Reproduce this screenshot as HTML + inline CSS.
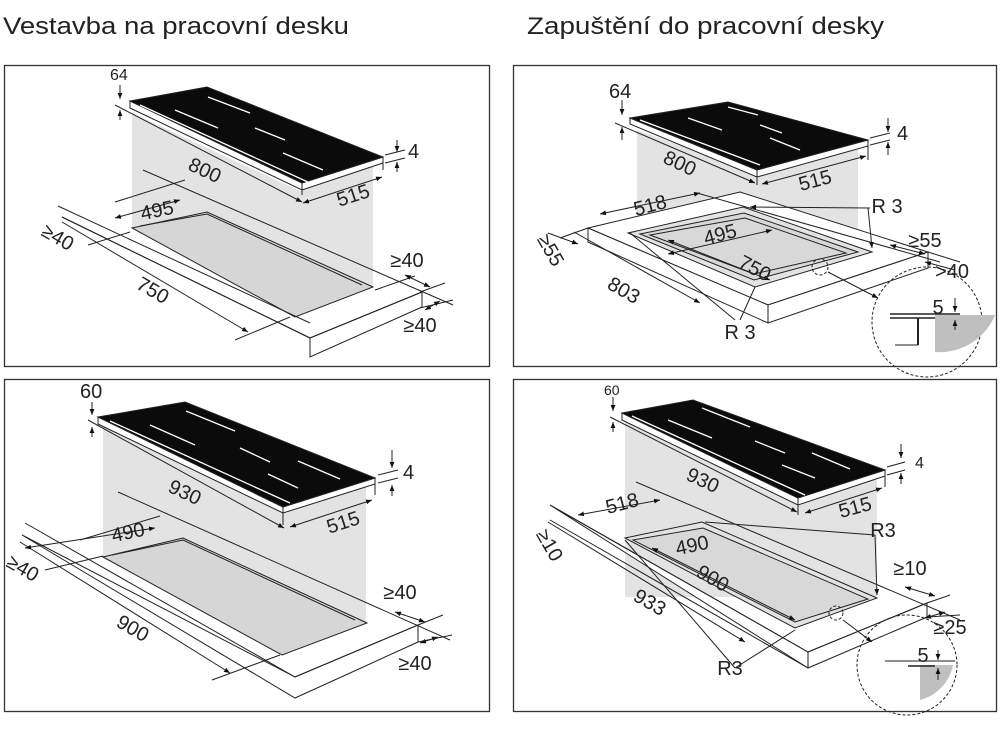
<!DOCTYPE html>
<html><head><meta charset="utf-8"><style>
html,body{margin:0;padding:0;background:#fff;}
svg{display:block;}
text{font-family:"Liberation Sans",sans-serif;fill:#222;}
</style></head><body>
<svg width="1000" height="731" viewBox="0 0 1000 731" xmlns="http://www.w3.org/2000/svg">
<defs>
<marker id="a" viewBox="0 0 10 10" refX="10" refY="5" markerWidth="6" markerHeight="6" orient="auto-start-reverse"><path d="M0,1 L10,5 L0,9z" fill="#111"/></marker>
</defs>
<text x="3" y="34" font-size="24" textLength="346" lengthAdjust="spacingAndGlyphs">Vestavba na pracovní desku</text>
<text x="527" y="34" font-size="24" textLength="357" lengthAdjust="spacingAndGlyphs">Zapuštění do pracovní desky</text>

<g fill="none" stroke="#333" stroke-width="1.3">
<rect x="4.5" y="65.5" width="485" height="301"/>
<rect x="513.5" y="65.5" width="483" height="301"/>
<rect x="4.5" y="379.5" width="485" height="332"/>
<rect x="513.5" y="379.5" width="483" height="332"/>
</g>

<!-- ===== TL ===== -->
<g stroke="#222" stroke-width="1" fill="none">
<polygon points="132,113 300,191 373,165 373,287 295,317 132,228" fill="#e3e3e3" stroke="none"/>
<polygon points="132,228 207,212 373,287 295,317" fill="#d6d6d6"/>
<polyline points="140,226 207,214 362,285"/>
<polygon points="62,217 310,338 422,292 422,307 310,357 310,338" fill="#fff"/>
<line x1="62" y1="217" x2="310" y2="338"/>
<line x1="310" y1="338" x2="422" y2="292"/>
<line x1="310" y1="338" x2="310" y2="357"/>
<line x1="143" y1="170" x2="453" y2="305"/>
<line x1="58" y1="206" x2="310" y2="323"/>
<line x1="62" y1="222" x2="248" y2="332" marker-end="url(#a)"/>
<line x1="235" y1="340" x2="290" y2="317"/>
<line x1="88" y1="245" x2="130" y2="232"/>
<line x1="115" y1="202" x2="185" y2="180"/>
<line x1="115" y1="218" x2="180" y2="200" marker-start="url(#a)" marker-end="url(#a)"/>
<line x1="375" y1="290" x2="415" y2="276"/>
<line x1="405" y1="275" x2="430" y2="287" marker-start="url(#a)" marker-end="url(#a)"/>
<line x1="425" y1="310" x2="440" y2="301" marker-start="url(#a)" marker-end="url(#a)"/>
<line x1="420" y1="292" x2="445" y2="283"/>
<line x1="420" y1="308" x2="453" y2="300"/>
<!-- hob -->
<polygon points="130,101 302,183 383,157 383,163 302,190 130,108" fill="#fff"/>
<polygon points="130,101 207,87 383,157 302,183" fill="#0b0b0b"/>
<line x1="302" y1="183" x2="302" y2="195"/>
<line x1="383" y1="157" x2="383" y2="170"/>
<line x1="115" y1="105" x2="302" y2="202" marker-end="url(#a)"/>
<line x1="303" y1="203" x2="382" y2="177" marker-start="url(#a)" marker-end="url(#a)"/>
<line x1="120" y1="85" x2="120" y2="99" marker-end="url(#a)"/>
<line x1="120" y1="120" x2="120" y2="110" marker-end="url(#a)"/>
<line x1="397" y1="140" x2="397" y2="152" marker-end="url(#a)"/>
<line x1="397" y1="172" x2="397" y2="162" marker-end="url(#a)"/>
<line x1="385" y1="155" x2="405" y2="150"/><line x1="385" y1="163" x2="405" y2="158"/>
</g>
<g stroke="#fff" stroke-width="1.3">
<line x1="208" y1="97" x2="250" y2="113"/><line x1="175" y1="110" x2="218" y2="128"/>
<line x1="255" y1="128" x2="285" y2="140"/><line x1="283" y1="153" x2="323" y2="170"/>
<line x1="140" y1="105" x2="310" y2="183"/>
</g>
<g font-size="20">
<text x="110" y="80" font-size="16">64</text>
<text x="408" y="158">4</text>
<text x="205" y="177" text-anchor="middle" transform="rotate(25 205 170)">800</text>
<text x="353" y="202" text-anchor="middle" transform="rotate(-18 353 195)">515</text>
<text x="157" y="217" text-anchor="middle" transform="rotate(-12 157 210)">495</text>
<text x="58" y="244" text-anchor="middle" transform="rotate(30 58 237)">≥40</text>
<text x="153" y="297" text-anchor="middle" transform="rotate(30 153 290)">750</text>
<text x="407" y="267" text-anchor="middle">≥40</text>
<text x="420" y="332" text-anchor="middle">≥40</text>
</g>

<!-- ===== BL ===== -->
<g stroke="#222" stroke-width="1" fill="none">
<polygon points="103,425 283,512 366,483 366,623 282,655 103,557" fill="#e3e3e3" stroke="none"/>
<polygon points="103,557 183,538 367,623 282,655" fill="#d6d6d6"/>
<polyline points="112,555 183,540 355,620"/>
<polygon points="22,535 295,677 418,625 418,642 295,698" fill="#fff"/>
<line x1="25" y1="523" x2="295" y2="677"/>
<line x1="295" y1="677" x2="418" y2="625"/>
<line x1="118" y1="492" x2="450" y2="640"/>
<line x1="20" y1="542" x2="230" y2="673" marker-end="url(#a)"/>
<line x1="212" y1="680" x2="280" y2="655"/>
<line x1="45" y1="570" x2="103" y2="556"/>
<line x1="80" y1="540" x2="160" y2="516"/>
<line x1="25" y1="548" x2="155" y2="528" marker-start="url(#a)" marker-end="url(#a)"/>
<line x1="395" y1="612" x2="425" y2="622" marker-start="url(#a)" marker-end="url(#a)"/>
<line x1="420" y1="643" x2="438" y2="637" marker-start="url(#a)" marker-end="url(#a)"/>
<line x1="418" y1="625" x2="443" y2="615"/>
<line x1="418" y1="642" x2="452" y2="635"/>
<polygon points="98,417 283,507 375,478 375,484 283,513 98,424" fill="#fff"/>
<polygon points="98,417 185,402 375,478 283,507" fill="#0b0b0b"/>
<line x1="283" y1="507" x2="283" y2="525"/>
<line x1="375" y1="478" x2="375" y2="495"/>
<line x1="88" y1="420" x2="284" y2="528" marker-end="url(#a)"/>
<line x1="290" y1="527" x2="372" y2="500" marker-start="url(#a)" marker-end="url(#a)"/>
<line x1="92" y1="402" x2="92" y2="415" marker-end="url(#a)"/>
<line x1="92" y1="437" x2="92" y2="427" marker-end="url(#a)"/>
<line x1="392" y1="450" x2="392" y2="468" marker-end="url(#a)"/>
<line x1="392" y1="496" x2="392" y2="485" marker-end="url(#a)"/>
<line x1="378" y1="475" x2="398" y2="470"/><line x1="378" y1="483" x2="398" y2="478"/>
</g>
<g stroke="#fff" stroke-width="1.3">
<line x1="186" y1="411" x2="235" y2="431"/><line x1="150" y1="425" x2="195" y2="445"/>
<line x1="240" y1="448" x2="270" y2="462"/><line x1="298" y1="461" x2="340" y2="479"/>
<line x1="268" y1="474" x2="298" y2="488"/>
<line x1="110" y1="421" x2="290" y2="503"/>
</g>
<g font-size="20">
<text x="80" y="398">60</text>
<text x="403" y="479">4</text>
<text x="185" y="499" text-anchor="middle" transform="rotate(25 185 492)">930</text>
<text x="343" y="529" text-anchor="middle" transform="rotate(-18 343 522)">515</text>
<text x="128" y="539" text-anchor="middle" transform="rotate(-12 128 532)">490</text>
<text x="23" y="575" text-anchor="middle" transform="rotate(30 23 568)">≥40</text>
<text x="133" y="635" text-anchor="middle" transform="rotate(30 133 628)">900</text>
<text x="400" y="599" text-anchor="middle">≥40</text>
<text x="415" y="670" text-anchor="middle">≥40</text>
</g>

<!-- ===== TR ===== -->
<g stroke="#222" stroke-width="1" fill="none">
<polygon points="637,130 757,172 858,145 858,247 637,247" fill="#e3e3e3" stroke="none"/>
<polygon points="588,228 740,192 928,252 768,305" fill="#fff"/>
<polygon points="588,228 768,305 928,252 928,268 768,323 588,242" fill="#fff"/>
<line x1="768" y1="305" x2="768" y2="323"/>
<polygon points="628,233 743,207 872,252 755,287" fill="#e3e3e3"/>
<polygon points="640,234 744,213 858,252 754,280" fill="#d8d8d8"/>
<polygon points="650,235 745,218 846,253 754,274"/>
<circle cx="820" cy="267" r="8" stroke-dasharray="3,2"/>
<line x1="828" y1="272" x2="878" y2="298" marker-end="url(#a)"/>
<circle cx="927" cy="322" r="55" stroke-dasharray="3,2"/>
<path d="M935,315 L995,315 A60,60 0 0 1 935,352 Z" fill="#bfbfbf" stroke="none"/>
<line x1="890" y1="314" x2="960" y2="314" stroke-width="1.5"/>
<line x1="890" y1="318" x2="935" y2="318" stroke-width="1.5"/>
<line x1="918" y1="318" x2="918" y2="345" stroke-width="2"/>
<line x1="895" y1="345" x2="918" y2="345"/>
<line x1="955" y1="298" x2="955" y2="312" marker-end="url(#a)"/>
<line x1="955" y1="330" x2="955" y2="320" marker-end="url(#a)"/>
<line x1="600" y1="214" x2="700" y2="193" marker-start="url(#a)" marker-end="url(#a)"/>
<line x1="697" y1="193" x2="940" y2="262"/>
<line x1="750" y1="207" x2="870" y2="208" marker-start="url(#a)"/>
<line x1="868" y1="208" x2="872" y2="248" marker-end="url(#a)"/>
<line x1="668" y1="254" x2="772" y2="230" marker-start="url(#a)" marker-end="url(#a)"/>
<line x1="668" y1="240" x2="770" y2="280" marker-start="url(#a)" marker-end="url(#a)"/>
<line x1="560" y1="238" x2="588" y2="228"/>
<line x1="548" y1="233" x2="578" y2="244" marker-end="url(#a)"/>
<line x1="574" y1="232" x2="700" y2="303" marker-end="url(#a)"/>
<line x1="630" y1="233" x2="735" y2="320"/>
<line x1="755" y1="287" x2="740" y2="320"/>
<line x1="890" y1="245" x2="925" y2="254" marker-start="url(#a)" marker-end="url(#a)"/>
<line x1="925" y1="262" x2="955" y2="270" marker-start="url(#a)"/>
<line x1="928" y1="252" x2="960" y2="262"/>
<polygon points="630,118 757,170 868,140 868,146 757,177 630,124" fill="#fff"/>
<polygon points="630,118 728,102 868,140 757,170" fill="#0b0b0b"/>
<line x1="757" y1="170" x2="757" y2="185"/>
<line x1="868" y1="140" x2="868" y2="160"/>
<line x1="615" y1="123" x2="755" y2="183" marker-end="url(#a)"/>
<line x1="762" y1="184" x2="866" y2="156" marker-start="url(#a)" marker-end="url(#a)"/>
<line x1="622" y1="100" x2="622" y2="115" marker-end="url(#a)"/>
<line x1="622" y1="140" x2="622" y2="127" marker-end="url(#a)"/>
<line x1="888" y1="118" x2="888" y2="132" marker-end="url(#a)"/>
<line x1="888" y1="155" x2="888" y2="142" marker-end="url(#a)"/>
<line x1="870" y1="138" x2="890" y2="133"/><line x1="870" y1="145" x2="890" y2="140"/>
</g>
<g stroke="#fff" stroke-width="1.3">
<line x1="728" y1="107" x2="758" y2="115"/><line x1="688" y1="118" x2="722" y2="130"/>
<line x1="760" y1="125" x2="782" y2="133"/><line x1="770" y1="138" x2="800" y2="150"/>
<line x1="640" y1="120" x2="760" y2="165"/>
</g>
<g font-size="20">
<text x="609" y="98">64</text>
<text x="897" y="140">4</text>
<text x="680" y="170" text-anchor="middle" transform="rotate(25 680 163)">800</text>
<text x="815" y="187" text-anchor="middle" transform="rotate(-15 815 180)">515</text>
<text x="650" y="212" text-anchor="middle" transform="rotate(-15 650 205)">518</text>
<text x="887" y="213" text-anchor="middle">R 3</text>
<text x="720" y="241" text-anchor="middle" transform="rotate(-15 720 234)">495</text>
<text x="755" y="275" text-anchor="middle" transform="rotate(28 755 268)">750</text>
<text x="925" y="247" text-anchor="middle">≥55</text>
<text x="952" y="278" text-anchor="middle">&gt;40</text>
<text x="551" y="257" text-anchor="middle" transform="rotate(60 551 250)">≥55</text>
<text x="624" y="297" text-anchor="middle" transform="rotate(30 624 290)">803</text>
<text x="740" y="339" text-anchor="middle">R 3</text>
<text x="938" y="314" text-anchor="middle">5</text>
</g>

<!-- ===== BR ===== -->
<g stroke="#222" stroke-width="1" fill="none">
<polygon points="625,420 798,502 877,476 877,597 625,597" fill="#e3e3e3" stroke="none"/>
<polygon points="550,505 808,652 927,603 927,617 808,668" fill="#fff"/>
<line x1="550" y1="505" x2="808" y2="652"/>
<line x1="808" y1="652" x2="927" y2="603"/>
<line x1="808" y1="652" x2="808" y2="668"/>
<line x1="550" y1="520" x2="808" y2="668"/>
<polygon points="625,538 702,522 877,598 795,628" fill="#e3e3e3"/>
<polygon points="633,540 703,528 868,599 795,622" fill="#d8d8d8"/>
<line x1="636" y1="482" x2="960" y2="620"/>
<line x1="548" y1="522" x2="745" y2="642" marker-end="url(#a)"/>
<line x1="578" y1="515" x2="660" y2="500" marker-start="url(#a)" marker-end="url(#a)"/>
<line x1="705" y1="522" x2="875" y2="535"/>
<line x1="875" y1="535" x2="877" y2="595" marker-end="url(#a)"/>
<line x1="625" y1="540" x2="735" y2="668"/>
<line x1="735" y1="668" x2="795" y2="630"/>
<line x1="652" y1="548" x2="795" y2="620" marker-start="url(#a)" marker-end="url(#a)"/>
<line x1="905" y1="587" x2="935" y2="596" marker-start="url(#a)" marker-end="url(#a)"/>
<line x1="925" y1="618" x2="945" y2="612" marker-start="url(#a)" marker-end="url(#a)"/>
<line x1="927" y1="603" x2="950" y2="595"/>
<line x1="927" y1="617" x2="960" y2="615"/>
<circle cx="836" cy="613" r="7" stroke-dasharray="3,2"/>
<line x1="843" y1="620" x2="872" y2="642" marker-end="url(#a)"/>
<circle cx="907" cy="665" r="50" stroke-dasharray="3,2"/>
<path d="M920,665 L953,665 A45,45 0 0 1 920,700 Z" fill="#bfbfbf" stroke="none"/>
<line x1="885" y1="661" x2="955" y2="661"/>
<line x1="908" y1="666" x2="935" y2="666" stroke-width="1.5"/>
<line x1="938" y1="650" x2="938" y2="660" marker-end="url(#a)"/>
<line x1="938" y1="680" x2="938" y2="668" marker-end="url(#a)"/>
<polygon points="622,413 798,498 885,470 885,476 798,505 622,420" fill="#fff"/>
<polygon points="622,413 693,400 885,470 798,498" fill="#0b0b0b"/>
<line x1="798" y1="498" x2="798" y2="515"/>
<line x1="885" y1="470" x2="885" y2="487"/>
<line x1="610" y1="417" x2="797" y2="512" marker-end="url(#a)"/>
<line x1="805" y1="513" x2="882" y2="488" marker-start="url(#a)" marker-end="url(#a)"/>
<line x1="613" y1="397" x2="613" y2="411" marker-end="url(#a)"/>
<line x1="613" y1="432" x2="613" y2="422" marker-end="url(#a)"/>
<line x1="901" y1="444" x2="901" y2="458" marker-end="url(#a)"/>
<line x1="901" y1="484" x2="901" y2="473" marker-end="url(#a)"/>
<line x1="887" y1="467" x2="905" y2="462"/><line x1="887" y1="475" x2="905" y2="470"/>
</g>
<g stroke="#fff" stroke-width="1.3">
<line x1="702" y1="408" x2="750" y2="427"/><line x1="668" y1="420" x2="712" y2="438"/>
<line x1="755" y1="441" x2="785" y2="453"/><line x1="812" y1="453" x2="850" y2="469"/>
<line x1="782" y1="465" x2="815" y2="478"/>
<line x1="632" y1="416" x2="805" y2="495"/>
</g>
<g font-size="20">
<text x="604" y="395" font-size="14">60</text>
<text x="915" y="468" font-size="16">4</text>
<text x="703" y="487" text-anchor="middle" transform="rotate(25 703 480)">930</text>
<text x="855" y="514" text-anchor="middle" transform="rotate(-15 855 507)">515</text>
<text x="622" y="510" text-anchor="middle" transform="rotate(-15 622 503)">518</text>
<text x="883" y="537" text-anchor="middle">R3</text>
<text x="692" y="552" text-anchor="middle" transform="rotate(-12 692 545)">490</text>
<text x="713" y="585" text-anchor="middle" transform="rotate(30 713 578)">900</text>
<text x="910" y="575" text-anchor="middle">≥10</text>
<text x="950" y="634" text-anchor="middle">≥25</text>
<text x="550" y="552" text-anchor="middle" transform="rotate(60 550 545)">≥10</text>
<text x="650" y="609" text-anchor="middle" transform="rotate(30 650 602)">933</text>
<text x="730" y="675" text-anchor="middle">R3</text>
<text x="923" y="662" text-anchor="middle">5</text>
</g>
</svg>
</body></html>
